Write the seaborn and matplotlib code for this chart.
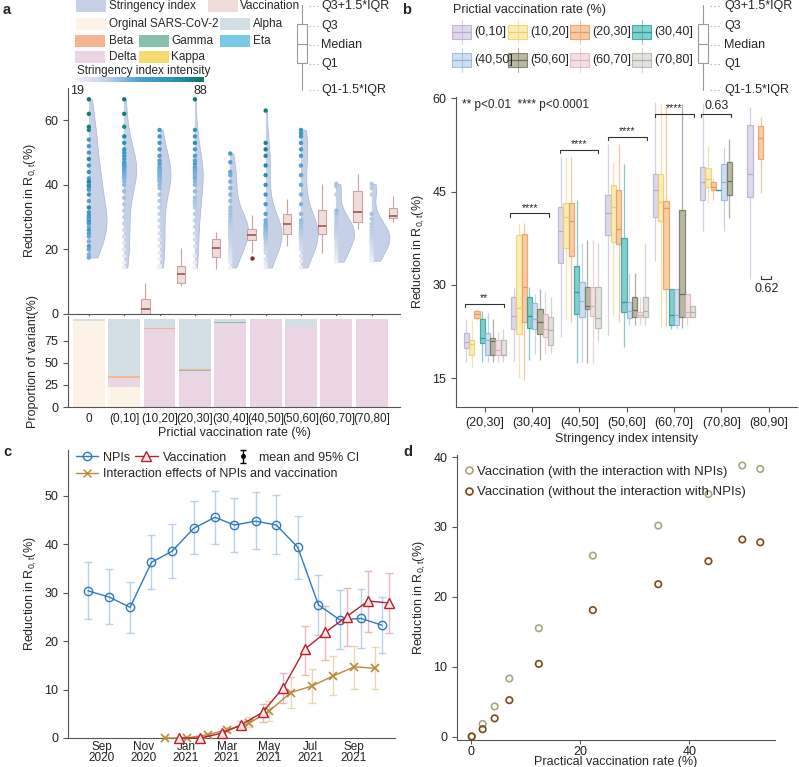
import numpy as np
import pandas as pd
import matplotlib.pyplot as plt
import matplotlib.dates as mdates
from matplotlib.colors import LinearSegmentedColormap, Normalize
from matplotlib.cm import ScalarMappable
from matplotlib.patches import Rectangle
from matplotlib.lines import Line2D
import seaborn as sns

# ---------------- panel a: NPI effect by vaccination bin ----------------
vacc_bins = ['0', '(0,10]', '(10,20]', '(20,30]', '(30,40]', '(40,50]', '(50,60]', '(60,70]', '(70,80]']

# reduction in R0,t (%) of each dot, and its stringency index
npi_red = [
    [66.5, 62, 58, 57, 54, 52, 50, 48, 46, 44, 42, 41, 40, 39.5, 38.5, 37, 35, 33, 31.5, 30.5, 30, 29.5, 29,
     28.5, 28, 27, 26, 25, 24, 22.5, 21, 20, 18.5, 17.5],
    [66.5, 62, 58, 55, 53, 51, 50, 49, 48, 47, 46.5, 46, 45.5, 45, 44.5, 44, 43.5, 43, 42.5, 42, 41, 40, 38,
     36, 34, 32, 30, 28, 26, 24, 22, 20, 18, 16, 14.4],
    [57, 55, 53, 51, 49, 47.5, 46.5, 45.5, 45, 44.5, 44, 43.5, 43, 42.5, 42, 41.5, 41, 40, 39, 37, 35, 33,
     31, 29, 27, 25, 23, 21, 19, 17, 15, 14.4],
    [66.5, 57, 55, 53, 51, 49, 47.5, 46.5, 45.5, 45, 44.5, 44, 43.5, 43, 42.5, 42, 41, 40, 38, 36, 35, 34.5,
     34, 33, 31, 29, 27, 25, 23, 21, 18, 16, 14.4],
    [49.7, 47, 44, 43, 41, 39, 37, 35, 33, 32, 31, 30, 29, 28.5, 28, 27.5, 27, 26.5, 26, 25.5, 25, 24.5, 24,
     23.5, 23, 22, 21, 20, 19, 18, 17, 16, 14.4],
    [63, 53, 51, 49, 46, 43, 40, 37, 34, 31, 29, 28, 27.5, 27, 26.5, 26, 25.5, 25.2, 25, 24.7, 24.5, 24,
     23.5, 23, 22, 21, 20, 19, 17, 15.5, 14.4],
    [57, 56, 55, 53, 51, 49, 46, 43, 40, 37, 34, 31, 29, 28, 27, 26.5, 26, 25.7, 25.4, 25.1, 24.8, 24.5, 24,
     23.5, 23, 22, 21, 20, 18, 16.5, 14.4],
    [40.3, 39.5, 37, 32, 31, 30, 29, 28, 27, 26.5, 26, 25.5, 25, 24.5, 24, 23.5, 23, 22, 21, 20, 19, 18, 17, 16.2],
    [40.3, 39, 37, 31, 29.5, 28, 27, 26, 25.5, 25, 24.5, 24, 23.5, 23, 22.5, 22, 21, 20, 19, 18, 17, 16.5],
]
npi_sti = [
    [86, 84, 82, 80, 60, 55, 58, 75, 62, 70, 55, 78, 60, 72, 56, 65, 52, 76, 58, 70, 54, 62, 50, 72, 55, 48,
     60, 52, 50, 46, 55, 50, 45, 48],
    [86, 84, 80, 76, 70, 66, 62, 60, 58, 56, 55, 54, 52, 51, 50, 49, 48, 47, 46, 45, 44, 43, 42, 40, 38, 36,
     34, 32, 30, 28, 26, 24, 22, 20, 20],
    [64, 60, 58, 56, 54, 53, 52, 50, 49, 48, 48, 47, 46, 46, 45, 44, 44, 43, 42, 40, 38, 36, 34, 32, 30, 28,
     26, 24, 22, 21, 20, 20],
    [88, 66, 60, 72, 56, 54, 52, 55, 50, 52, 48, 50, 47, 46, 45, 48, 44, 43, 42, 41, 40, 39, 38, 37, 36, 34,
     32, 30, 28, 26, 23, 21, 20],
    [55, 52, 50, 48, 46, 45, 44, 42, 41, 40, 40, 39, 38, 38, 37, 37, 36, 36, 35, 35, 34, 34, 33, 33, 32, 31,
     30, 28, 27, 26, 24, 22, 20],
    [85, 80, 82, 76, 75, 72, 66, 60, 56, 52, 48, 47, 46, 45, 44, 44, 43, 42, 42, 41, 40, 40, 39, 38, 36, 34,
     32, 30, 26, 22, 20],
    [62, 61, 60, 58, 56, 55, 52, 50, 48, 46, 45, 43, 42, 41, 40, 40, 39, 38, 38, 37, 37, 36, 35, 34, 33, 32,
     30, 28, 25, 22, 20],
    [40, 38, 35, 42, 40, 38, 36, 37, 35, 36, 34, 35, 33, 34, 32, 32, 30, 29, 28, 26, 25, 23, 22, 20],
    [38, 36, 34, 40, 38, 37, 36, 35, 36, 34, 35, 33, 34, 32, 31, 30, 28, 27, 25, 23, 21, 20],
]

# vaccination effect: [min, Q1, median, Q3, max]
vacc_box = [None,
            [0.0, 0.1, 1.5, 4.6, 9.5],
            [8.7, 9.7, 12.5, 14.8, 20.5],
            [14.0, 17.8, 20.3, 23.2, 25.5],
            [19.0, 23.0, 24.6, 26.3, 30.6],
            [21.0, 24.8, 28.0, 30.9, 35.6],
            [18.8, 24.9, 27.3, 32.2, 40.3],
            [26.2, 28.6, 31.6, 38.0, 43.4],
            [28.6, 29.6, 30.4, 32.7, 36.7]]
vacc_outlier_bin = [4]
vacc_outlier_val = [17.5]

# proportion of variant (%)
share_original = [97, 23, 0, 0, 0, 0, 0, 0, 0]
share_delta = [0, 9.5, 88, 41, 95, 98, 90, 100, 100]
share_eta = [0, 0.8, 0, 0, 0, 0, 0, 0, 0]
share_gamma = [0, 0, 0, 1, 0.7, 0, 0, 0, 0]
share_beta = [0, 1.5, 1, 1, 0, 0, 0, 0, 0]
share_kappa = [0, 0, 0, 0, 0, 0, 0, 0, 0]
share_alpha = [3, 65.2, 11, 57, 4.3, 2, 10, 0, 0]

# ---------------- panel b ----------------
sti_bins = ['(20,30]', '(30,40]', '(40,50]', '(50,60]', '(60,70]', '(70,80]', '(80,90]']
vacc_levels = ['(0,10]', '(10,20]', '(20,30]', '(30,40]', '(40,50]', '(50,60]', '(60,70]', '(70,80]']
# [min, Q1, median, Q3, max] per stringency bin
b_0_10 = [[17.6, 19.9, 20.9, 22.3, 24.6], [17.8, 23.0, 25.0, 28.1, 29.5], [21.6, 33.6, 38.7, 42.6, 50.6],
          [22.0, 38.0, 41.5, 44.4, 52.7], [33.8, 40.9, 45.3, 47.9, 59.4], [38.6, 43.7, 46.5, 49.0, 59.2],
          [30.9, 44.2, 47.9, 55.7, 58.6]]
b_10_20 = [[16.8, 18.7, 20.6, 21.2, 24.3], [15.0, 22.2, 26.3, 38.1, 39.9], [24.5, 35.9, 40.9, 43.1, 50.6],
           [25.0, 36.9, 42.5, 46.1, 49.8], [23.1, 40.3, 43.4, 47.9, 59.0], [43.1, 45.8, 47.1, 48.8, 52.4],
           None]
b_20_30 = [[24.3, 24.7, 25.3, 25.9, 26.2], [14.7, 24.1, 29.7, 38.2, 40.0], [24.0, 34.6, 40.3, 43.1, 50.6],
           [24.0, 36.6, 39.0, 45.3, 52.7], [23.4, 29.3, 42.4, 43.5, 59.0], [43.7, 45.3, 45.8, 46.6, 47.1],
           [44.7, 50.3, 53.6, 55.5, 57.0]]
b_30_40 = [[17.6, 20.7, 21.5, 24.6, 25.9], [17.9, 23.1, 25.0, 28.1, 29.6], [17.4, 25.3, 28.8, 33.0, 43.7],
           [20.0, 25.6, 27.2, 37.6, 49.4], [23.0, 23.5, 25.2, 29.3, 29.3], [45.3, 45.3, 45.3, 45.3, 45.3],
           None]
b_40_50 = [[17.6, 18.8, 21.2, 22.3, 25.5], [18.9, 23.0, 24.6, 27.1, 28.5], [17.6, 24.8, 27.4, 30.5, 36.8],
           [23.5, 24.7, 25.9, 27.2, 32.0], [23.0, 23.5, 25.2, 29.3, 29.3], [38.6, 43.7, 46.5, 49.5, 52.2],
           None]
b_50_60 = [[17.6, 18.8, 21.0, 21.5, 24.6], [17.9, 22.2, 24.1, 26.2, 29.3], [17.4, 26.2, 26.7, 29.7, 37.2],
           [23.5, 24.9, 26.0, 28.1, 32.0], [23.1, 24.9, 28.5, 42.1, 59.0], [40.7, 44.5, 46.7, 49.8, 53.5],
           None]
b_60_70 = [[17.6, 18.8, 19.6, 21.2, 22.5], [18.9, 21.6, 22.9, 25.4, 28.8], [17.4, 25.0, 26.7, 29.6, 37.2],
           [23.5, 24.8, 25.2, 25.6, 28.0], [23.5, 24.9, 25.7, 28.5, 28.5], None, None]
b_70_80 = [[17.6, 18.7, 18.8, 21.2, 23.0], [19.0, 20.4, 22.8, 24.9, 28.0], [21.0, 23.1, 24.7, 29.6, 36.8],
           [23.5, 24.8, 25.8, 28.1, 36.8], [24.9, 24.9, 25.6, 26.6, 26.6], None, None]
b_stats = [b_0_10, b_10_20, b_20_30, b_30_40, b_40_50, b_50_60, b_60_70, b_70_80]

sig_group = [0, 1, 2, 3, 4, 5]
sig_left = [-0.42, -0.46, -0.42, -0.40, -0.40, -0.42]
sig_right = [0.40, 0.36, 0.40, 0.42, 0.42, 0.21]
sig_y = [27.0, 41.5, 51.7, 53.8, 57.5, 57.5]
sig_text = ['**', '****', '****', '****', '****', '0.63']

# ---------------- panel c ----------------
npi_months = ['2020-08', '2020-09', '2020-10', '2020-11', '2020-12', '2021-01', '2021-02', '2021-03',
              '2021-04', '2021-05', '2021-06', '2021-07', '2021-08', '2021-09', '2021-10']
npi_mean = [30.4, 29.1, 27.0, 36.3, 38.6, 43.3, 45.6, 44.0, 44.8, 44.0, 39.4, 27.5, 24.4, 24.7, 23.3]
npi_lo = [24.5, 23.6, 21.6, 30.7, 33.1, 38.0, 40.0, 38.4, 39.0, 38.0, 32.8, 21.3, 18.3, 18.6, 17.5]
npi_hi = [36.3, 34.9, 32.3, 41.9, 44.2, 49.0, 51.1, 49.5, 50.8, 50.1, 45.9, 33.7, 30.6, 30.8, 29.2]

eff_months = ['2020-12', '2021-01', '2021-02', '2021-03', '2021-04', '2021-05', '2021-06', '2021-07',
              '2021-08', '2021-09', '2021-10']
vac_mean = [0.0, 0.0, 1.0, 2.7, 5.3, 10.4, 18.3, 21.8, 25.1, 28.3, 27.9]
vac_lo = [0.0, 0.0, 0.6, 1.8, 3.4, 7.2, 13.0, 16.1, 19.0, 21.8, 21.6]
vac_hi = [0.1, 0.2, 1.5, 3.6, 7.0, 13.5, 23.1, 27.3, 30.9, 34.4, 34.0]
int_mean = [0.0, 0.0, 0.7, 1.7, 3.0, 5.6, 9.4, 10.7, 12.8, 14.7, 14.4]
int_lo = [0.0, 0.0, 0.4, 1.2, 2.3, 3.6, 6.3, 7.3, 8.8, 10.2, 10.2]
int_hi = [0.0, 0.1, 1.0, 2.3, 4.4, 7.6, 12.7, 14.3, 16.9, 19.1, 18.9]

# ---------------- panel d ----------------
rate = [0.1, 2.1, 4.3, 7.0, 12.4, 22.3, 34.3, 43.5, 49.7, 53.0]
with_inter = [0.0, 1.8, 4.3, 8.3, 15.5, 25.9, 30.2, 34.7, 38.8, 38.3]
without_inter = [0.0, 1.05, 2.6, 5.2, 10.4, 18.1, 21.8, 25.1, 28.2, 27.8]

# ---------------- style ----------------
sns.set_style('ticks')
plt.rcParams['font.family'] = ['Liberation Sans', 'DejaVu Sans']
plt.rcParams['mathtext.fontset'] = 'custom'
plt.rcParams['mathtext.rm'] = 'Liberation Sans'
plt.rcParams['font.size'] = 9
plt.rcParams['axes.edgecolor'] = '#555555'
plt.rcParams['axes.linewidth'] = 0.8
plt.rcParams['xtick.color'] = '#555555'
plt.rcParams['ytick.color'] = '#555555'
plt.rcParams['xtick.labelcolor'] = '#222222'
plt.rcParams['ytick.labelcolor'] = '#222222'
plt.rcParams['xtick.labelsize'] = 9
plt.rcParams['ytick.labelsize'] = 9
plt.rcParams['axes.labelsize'] = 9

W, H = 799, 767
ylab = 'Reduction in R$_{\\mathrm{0,t}}$(%)'


def frame(left, top, right, bottom):
    return [left / W, 1 - bottom / H, (right - left) / W, (bottom - top) / H]


sti_cmap = LinearSegmentedColormap.from_list('sti', ['#f3eff8', '#b9cde8', '#4b9cd3', '#2a93b8', '#0c7863'])
vio_col = '#c6d0e7'
vacc_col = '#f1dcdc'
variant_colors = {'Orginal SARS-CoV-2': '#fdf2e6', 'Alpha': '#d3dde4', 'Beta': '#f3b48f', 'Gamma': '#85c1ab',
                  'Eta': '#79c9e8', 'Delta': '#ebd4e3', 'Kappa': '#f6dc70'}
b_fill = ['#d8cfe6', '#fbe8a2', '#f7c08f', '#63c3c2', '#c2d8ee', '#a8a78d', '#f0d8db', '#dcdcd5']
b_edge = ['#b8a9cf', '#e9cf6a', '#e99a5a', '#2a9c9c', '#8fb3d9', '#6f6e55', '#d7b4b9', '#b0b0a8']

fig = plt.figure(figsize=(W / 100, H / 100), dpi=100)

# ================= panel a (top) =================
ax_a = fig.add_axes(frame(68, 88, 400, 314))
violin_half = [0.5, 0.34, 0.31, 0.22, 0.5, 0.45, 0.47, 0.5, 0.5]
ax_a.vlines(range(len(vacc_bins)), [min(v) for v in npi_red], [max(v) for v in npi_red],
            color='#d4d4d4', lw=0.8, zorder=1)
for i, vals in enumerate(npi_red):
    d = pd.DataFrame({'x': i, 'y': vals})
    n_before = len(ax_a.collections)
    sns.violinplot(data=d, x='x', y='y', native_scale=True, orient='x', inner=None, cut=0,
                   width=2 * violin_half[i], bw_adjust=0.9, color=vio_col, saturation=1, linewidth=0.5,
                   linecolor='#a9b6d2', ax=ax_a)
    # keep only the right half of each violin
    for coll in ax_a.collections[n_before:]:
        coll.set_clip_path(Rectangle((i, -10), 1, 100, transform=ax_a.transData))

pts = pd.DataFrame({'x': np.repeat(np.arange(len(npi_red)), [len(v) for v in npi_red]),
                    'y': np.concatenate(npi_red), 'sti': np.concatenate(npi_sti)})
sns.scatterplot(data=pts, x='x', y='y', hue='sti', palette=sti_cmap, hue_norm=(19, 88), s=10,
                linewidth=0, legend=False, ax=ax_a, zorder=3)

vb = pd.DataFrame([(i + 0.6, v) for i, s in enumerate(vacc_box) if s for v in s], columns=['pos', 'val'])
sns.boxplot(data=vb, x='pos', y='val', native_scale=True, orient='x', whis=(0, 100), width=0.24,
            color=vacc_col, saturation=1, linecolor='#c9a3a3', linewidth=0.8,
            medianprops={'color': '#9a4646', 'linewidth': 1.1}, capprops={'linewidth': 0}, ax=ax_a)
sns.scatterplot(x=[b + 0.6 for b in vacc_outlier_bin], y=vacc_outlier_val, color='#8c2a2a', s=10,
                linewidth=0, ax=ax_a)

ax_a.set_xlim(-0.59, 8.8)
ax_a.set_ylim(0, 70)
ax_a.set_yticks([0, 20, 40, 60])
ax_a.set_xticks(range(len(vacc_bins)))
ax_a.set_xticklabels([])
ax_a.set_xlabel('')
ax_a.set_ylabel(ylab)
sns.despine(ax=ax_a)

# ================= panel a (bottom) =================
ax_a2 = fig.add_axes(frame(68, 316, 400, 407))
var_names = ['Orginal SARS-CoV-2', 'Delta', 'Eta', 'Gamma', 'Beta', 'Kappa', 'Alpha']
var_shares = [share_original, share_delta, share_eta, share_gamma, share_beta, share_kappa, share_alpha]
var_df = pd.DataFrame([(i, n, s) for n, sh in zip(var_names, var_shares) for i, s in enumerate(sh)],
                      columns=['idx', 'variant', 'share'])
sns.histplot(data=var_df, x='idx', weights='share', hue='variant', hue_order=var_names[::-1],
             multiple='stack', discrete=True, shrink=0.9, palette=variant_colors, alpha=1, linewidth=0,
             legend=False, ax=ax_a2)
ax_a2.set_xlim(-0.59, 8.8)
ax_a2.set_ylim(0, 103)
ax_a2.set_yticks([0, 25, 50, 75])
ax_a2.set_xticks(range(len(vacc_bins)))
ax_a2.set_xticklabels(vacc_bins, fontsize=8.5)
ax_a2.tick_params(axis='x', length=0, pad=4)
ax_a2.set_xlabel('Prictial vaccination rate (%)', labelpad=2)
ax_a2.set_ylabel('Proportion of variant(%)')
sns.despine(ax=ax_a2)

# ================= panel b =================
ax_b = fig.add_axes(frame(456, 97, 797, 407))
for lvl, stats, ec in zip(vacc_levels, b_stats, b_edge):
    d = pd.DataFrame([(sti_bins[g], lvl, v) for g, s in enumerate(stats) if s for v in s],
                     columns=['sti', 'vacc', 'val'])
    sns.boxplot(data=d, x='sti', y='val', hue='vacc', order=sti_bins, hue_order=vacc_levels,
                palette=dict(zip(vacc_levels, b_fill)), saturation=1, whis=(0, 100), width=0.9, gap=0,
                dodge=True, linecolor=ec, linewidth=0.9, boxprops={'alpha': 0.8},
                whiskerprops={'alpha': 0.55}, capprops={'linewidth': 0}, legend=False, ax=ax_b)

for g, x0, x1, y, t in zip(sig_group, sig_left, sig_right, sig_y, sig_text):
    ax_b.plot([g + x0, g + x0, g + x1, g + x1], [y - 0.5, y, y, y - 0.5], color='#333333', lw=0.8)
    star = t.startswith('*')
    ax_b.text(g + (x0 + x1) / 2, y + (0.1 if star else 0.3), t, ha='center', va='bottom',
              fontsize=7.5 if star else 9)
ax_b.plot([6 - 0.17, 6 - 0.17, 6 + 0.06, 6 + 0.06], [31.5, 31.0, 31.0, 31.5], color='#333333', lw=0.8)
ax_b.text(6 - 0.05, 30.3, '0.62', ha='center', va='top', fontsize=9)
ax_b.text(0.018, 0.975, '** p<0.01  **** p<0.0001', transform=ax_b.transAxes, ha='left', va='center',
          fontsize=8.5)

ax_b.set_xlim(-0.61, 6.6)
ax_b.set_ylim(10.4, 60.2)
ax_b.set_yticks([15, 30, 45, 60])
ax_b.set_xlabel('Stringency index intensity', labelpad=3)
ax_b.set_ylabel(ylab)
sns.despine(ax=ax_b)

# ================= panel c =================
ax_c = fig.add_axes(frame(68, 450, 395, 738))
npi_dates = pd.to_datetime(npi_months) + pd.Timedelta(days=11)
vac_dates = pd.to_datetime(eff_months) + pd.Timedelta(days=21)
int_dates = pd.to_datetime(eff_months) + pd.Timedelta(days=1)
npi_c, vac_c, int_c = '#2f7abf', '#b5202d', '#b98a3c'

for dt, m, lo, hi, ec in [(npi_dates, npi_mean, npi_lo, npi_hi, '#a8c6e4'),
                          (vac_dates, vac_mean, vac_lo, vac_hi, '#e3a9ae'),
                          (int_dates, int_mean, int_lo, int_hi, '#e4cfa5')]:
    ax_c.errorbar(dt, m, yerr=[np.subtract(m, lo), np.subtract(hi, m)], fmt='none', ecolor=ec,
                  elinewidth=1, capsize=3, capthick=1, alpha=0.8, zorder=1)

sns.lineplot(x=npi_dates, y=npi_mean, color=npi_c, marker='o', ms=6, mfc='none', mec=npi_c, mew=1,
             lw=1, ax=ax_c, zorder=3, clip_on=False)
sns.lineplot(x=int_dates, y=int_mean, color=int_c, marker='x', ms=6, mec=int_c, mew=1.2,
             lw=1, ax=ax_c, zorder=3, clip_on=False)
sns.lineplot(x=vac_dates, y=vac_mean, color=vac_c, marker='^', ms=7, mfc='#fbe4e4', mec=vac_c, mew=1,
             lw=1, ax=ax_c, zorder=4, clip_on=False)

h_npi = Line2D([], [], color=npi_c, marker='o', mfc='none', ms=6, lw=1)
h_vac = Line2D([], [], color=vac_c, marker='^', mfc='#fbe4e4', ms=7, lw=1)
h_int = Line2D([], [], color=int_c, marker='x', ms=6, lw=1)
h_ci = ax_c.errorbar([np.nan], [np.nan], yerr=[1.0], fmt='o', color='k', ms=2.5, capsize=2.5,
                     elinewidth=1)
leg1 = ax_c.legend([h_npi, h_vac, h_ci], ['NPIs', 'Vaccination', 'mean and 95% CI'], loc='upper left',
                   bbox_to_anchor=(0.0, 1.02), ncol=3, frameon=False, handlelength=1.8, handletextpad=0.4,
                   columnspacing=0.4, fontsize=9, borderaxespad=0.2)
ax_c.add_artist(leg1)
ax_c.legend([h_int], ['Interaction effects of NPIs and vaccination'], loc='upper left',
            bbox_to_anchor=(0.0, 0.962), frameon=False, handlelength=1.8, handletextpad=0.4, fontsize=9,
            borderaxespad=0.2)

ax_c.set_xlim(pd.Timestamp('2020-07-14'), pd.Timestamp('2021-10-31'))
ax_c.set_ylim(0, 59.5)
ax_c.set_yticks([0, 10, 20, 30, 40, 50])
ax_c.xaxis.set_major_locator(mdates.MonthLocator(bymonth=[1, 3, 5, 7, 9, 11]))
ax_c.xaxis.set_major_formatter(mdates.DateFormatter('%b\n%Y'))
ax_c.tick_params(axis='x', length=0, pad=2)
for lab in ax_c.get_xticklabels():
    lab.set_linespacing(0.95)
    lab.set_fontsize(8.5)
ax_c.set_ylabel(ylab)
ax_c.set_xlabel('')
sns.despine(ax=ax_c)

# ================= panel d =================
ax_d = fig.add_axes(frame(457, 455, 775, 740))
sns.scatterplot(x=rate, y=with_inter, marker='o', s=22, facecolor='none', edgecolor='#aaa57f',
                linewidth=1.2, ax=ax_d)
sns.scatterplot(x=rate, y=without_inter, marker='o', s=22, facecolor='none', edgecolor='#7b4a16',
                linewidth=1.2, ax=ax_d)
h_w = Line2D([], [], ls='none', marker='o', ms=5, mfc='none', mec='#aaa57f', mew=1.2)
h_wo = Line2D([], [], ls='none', marker='o', ms=5, mfc='none', mec='#7b4a16', mew=1.2)
ax_d.legend([h_w, h_wo], ['Vaccination (with the interaction with NPIs)',
                          'Vaccination (without the interaction with NPIs)'],
            loc='upper left', bbox_to_anchor=(0.0, 0.99), frameon=False, handlelength=0.6,
            handletextpad=0.3, labelspacing=0.6, fontsize=9.5, borderaxespad=0.2)
ax_d.set_xlim(-2.6, 55.7)
ax_d.set_ylim(-0.5, 40.3)
ax_d.set_xticks([0, 20, 40])
ax_d.set_yticks([0, 10, 20, 30, 40])
ax_d.tick_params(axis='x', length=3, pad=1)
ax_d.set_xlabel('Practical vaccination rate (%)', labelpad=-1)
ax_d.set_ylabel(ylab)
sns.despine(ax=ax_d)

# ================= legends / keys (figure overlay) =================
ov = fig.add_axes([0, 0, 1, 1])
ov.set_xlim(0, W)
ov.set_ylim(H, 0)
ov.axis('off')

a_keys = [('Stringency index', vio_col, 76, 6, 109), ('Vaccination', vacc_col, 208, 6, 240),
          ('Orginal SARS-CoV-2', variant_colors['Orginal SARS-CoV-2'], 76, 24, 109),
          ('Alpha', variant_colors['Alpha'], 220, 24, 253),
          ('Beta', variant_colors['Beta'], 75, 41, 109), ('Gamma', variant_colors['Gamma'], 139, 41, 171),
          ('Eta', variant_colors['Eta'], 220, 41, 253),
          ('Delta', variant_colors['Delta'], 75, 57, 109), ('Kappa', variant_colors['Kappa'], 139, 57, 171)]
for lab, col, px, py, tx in a_keys:
    ov.add_patch(Rectangle((px, py - 6), 30, 12, color=col, lw=0))
    ov.text(tx, py, lab, va='center', ha='left', fontsize=8.5)
ov.text(77, 71, 'Stringency index intensity', va='center', ha='left', fontsize=8.5)
ov.text(70, 91, '19', va='center', ha='left', fontsize=9)
ov.text(193, 91, '88', va='center', ha='left', fontsize=9)
cax = fig.add_axes(frame(77, 77, 204, 82))
cb = fig.colorbar(ScalarMappable(Normalize(19, 88), sti_cmap), cax=cax, orientation='horizontal')
cb.set_ticks([])
cb.outline.set_visible(False)


def box_key(cx, tx):
    kc = '#9a9a9a'
    ov.plot([cx, cx], [5, 24], color=kc, lw=0.8)
    ov.plot([cx, cx], [63, 90], color=kc, lw=0.8)
    ov.add_patch(Rectangle((cx - 5, 24), 10, 39, fill=False, ec=kc, lw=0.8))
    ov.plot([cx - 5, cx + 5], [44, 44], color=kc, lw=0.8)
    for yy, lab in zip([6, 26, 45, 64, 90], ['Q3+1.5*IQR', 'Q3', 'Median', 'Q1', 'Q1-1.5*IQR']):
        ov.plot([cx + 7, tx - 3], [yy, yy], color='#bbbbbb', lw=0.8, ls=(0, (1.5, 2)))
        ov.text(tx, yy, lab, va='center', ha='left', fontsize=9)


box_key(302, 321)
box_key(703, 724)

ov.text(453, 10, 'Prictial vaccination rate (%)', va='center', ha='left', fontsize=9)
icon_x = [452, 508, 570, 632]
for k, (lvl, fc, ec) in enumerate(zip(vacc_levels, b_fill, b_edge)):
    ix = icon_x[k % 4]
    iy = 32 if k < 4 else 60
    ov.plot([ix + 9.5, ix + 9.5], [iy - 12, iy + 12], color=ec, lw=0.8, alpha=0.55)
    ov.add_patch(Rectangle((ix, iy - 7), 19, 14, fc=fc, ec=ec, lw=0.8, alpha=0.8))
    ov.plot([ix, ix + 19], [iy, iy], color=ec, lw=0.9)
    ov.text(ix + 22, iy, lvl, va='center', ha='left', fontsize=9)

for lab, x, y in [('a', 3, 10), ('b', 402, 10), ('c', 3, 452), ('d', 403, 452)]:
    ov.text(x, y, lab, fontsize=10.5, fontweight='bold', va='center', ha='left')

fig.savefig('out.png', dpi=100)
